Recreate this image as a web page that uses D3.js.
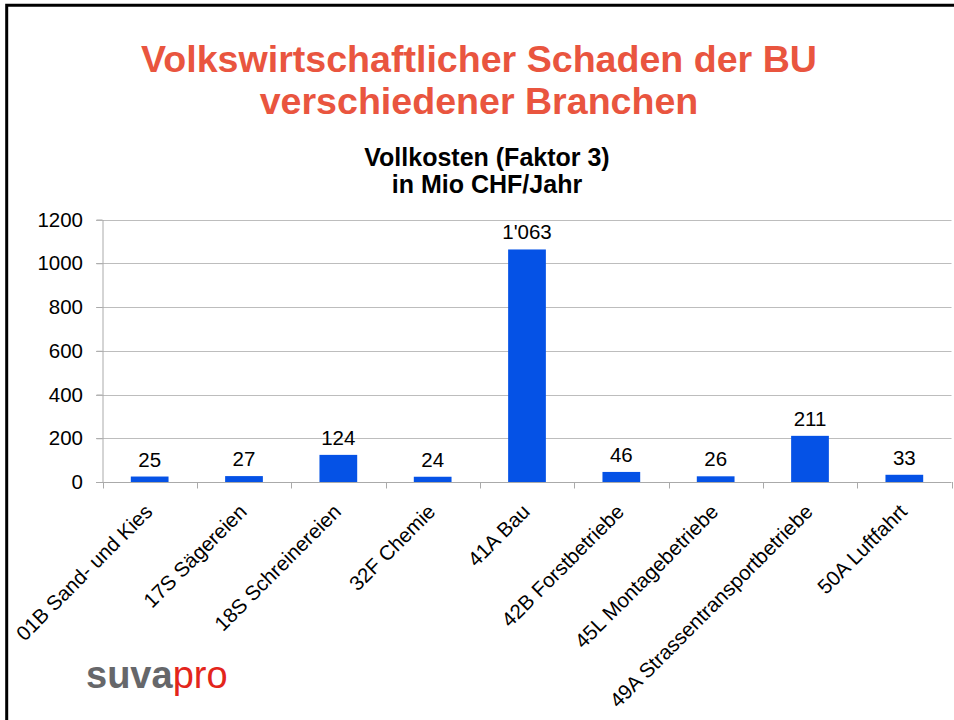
<!DOCTYPE html>
<html>
<head>
<meta charset="utf-8">
<script src="https://cdn.jsdelivr.net/npm/d3@7"></script>
<style>
  body { margin: 0; background: #fff; }
  text { font-family: Arial, "Liberation Sans", sans-serif; }
</style>
</head>
<body>
<svg id="chart" width="954" height="720"></svg>
<script>
// data
const branches = ["01B Sand- und Kies", "17S Sägereien", "18S Schreinereien", "32F Chemie", "41A Bau",
  "42B Forstbetriebe", "45L Montagebetriebe", "49A Strassentransportbetriebe", "50A Luftfahrt"];
const costs = [25, 27, 124, 24, 1063, 46, 26, 211, 33];
const valueLabels = ["25", "27", "124", "24", "1'063", "46", "26", "211", "33"];
const yTicks = [0, 200, 400, 600, 800, 1000, 1200];
const titleLines = ["Volkswirtschaftlicher Schaden der BU", "verschiedener Branchen"];
const subtitleLines = ["Vollkosten (Faktor 3)", "in Mio CHF/Jahr"];

const svg = d3.select('#chart');

svg.append('rect').attr('width', 954).attr('height', 720).attr('fill', '#fff');

// slide frame (left and top edge only)
svg.append('path')
  .attr('d', 'M6.7,720V5.2H954')
  .attr('fill', 'none')
  .attr('stroke', '#000')
  .attr('stroke-width', 3);

// title
svg.append('g').selectAll('text')
  .data(titleLines)
  .join('text')
  .attr('x', 479)
  .attr('y', (d, i) => 72 + i * 42)
  .attr('text-anchor', 'middle')
  .attr('font-size', 37.6)
  .attr('font-weight', 'bold')
  .attr('fill', '#e9553f')
  .text(d => d);

svg.append('g').selectAll('text')
  .data(subtitleLines)
  .join('text')
  .attr('x', 487)
  .attr('y', (d, i) => 166 + i * 27)
  .attr('text-anchor', 'middle')
  .attr('font-size', 25)
  .attr('font-weight', 'bold')
  .attr('fill', '#000')
  .text(d => d);

// scales
const x = d3.scaleBand().domain(branches).range([102.5, 951.5]).paddingInner(0).paddingOuter(0);
const y = d3.scaleLinear().domain([0, 1200]).range([482, 219.5]);
const barW = x.bandwidth() * 0.4;

// gridlines
svg.append('g').selectAll('line')
  .data(yTicks.filter(d => d > 0))
  .join('line')
  .attr('x1', 96).attr('x2', 951.5)
  .attr('y1', d => Math.round(y(d)) + 0.5).attr('y2', d => Math.round(y(d)) + 0.5)
  .attr('stroke', '#bdbdbd')
  .attr('stroke-width', 1);

// y axis
const yAxis = svg.append('g')
  .attr('transform', 'translate(102.5,0)')
  .call(d3.axisLeft(y).tickValues(yTicks).tickFormat(d3.format('d'))
    .tickSize(6).tickSizeOuter(0).tickPadding(13.5));
yAxis.select('.domain').attr('stroke', '#aaaaaa');
yAxis.selectAll('.tick line').attr('stroke', '#aaaaaa');
yAxis.selectAll('.tick text')
  .attr('font-size', 20.5)
  .attr('font-family', 'Arial, "Liberation Sans", sans-serif')
  .attr('fill', '#000');

// x axis line and ticks at category boundaries
const xAxis = svg.append('g');
xAxis.append('line')
  .attr('x1', 96).attr('x2', 951.5)
  .attr('y1', 482.5).attr('y2', 482.5)
  .attr('stroke', '#aaaaaa');
const bounds = branches.map(d => x(d)).concat([x.range()[1]]);
xAxis.selectAll('line.tick')
  .data(bounds)
  .join('line')
  .attr('class', 'tick')
  .attr('x1', d => Math.round(d) + 0.5).attr('x2', d => Math.round(d) + 0.5)
  .attr('y1', 482).attr('y2', 488.5)
  .attr('stroke', '#aaaaaa');

// bars
svg.append('g').selectAll('rect')
  .data(costs)
  .join('rect')
  .attr('x', (d, i) => x(branches[i]) + (x.bandwidth() - barW) / 2)
  .attr('y', d => y(d))
  .attr('width', barW)
  .attr('height', d => y(0) - y(d))
  .attr('fill', '#0552e6');

// value labels
svg.append('g').selectAll('text')
  .data(costs)
  .join('text')
  .attr('x', (d, i) => x(branches[i]) + x.bandwidth() / 2)
  .attr('y', d => y(d) - 10)
  .attr('text-anchor', 'middle')
  .attr('font-size', 20.5)
  .attr('fill', '#000')
  .text((d, i) => valueLabels[i]);

// category labels
svg.append('g').selectAll('text')
  .data(branches)
  .join('text')
  .attr('transform', d => 'translate(' + (x(d) + x.bandwidth() / 2 + 4) + ',513) rotate(-45)')
  .attr('text-anchor', 'end')
  .attr('font-size', 20.5)
  .attr('fill', '#000')
  .text(d => d);

// logo
const logo = svg.append('text')
  .attr('x', 86)
  .attr('y', 688)
  .attr('font-size', 38);
logo.append('tspan').attr('font-weight', 'bold').attr('fill', '#66676a').text('suva');
logo.append('tspan').attr('fill', '#e3251b').text('pro');
</script>
</body>
</html>
